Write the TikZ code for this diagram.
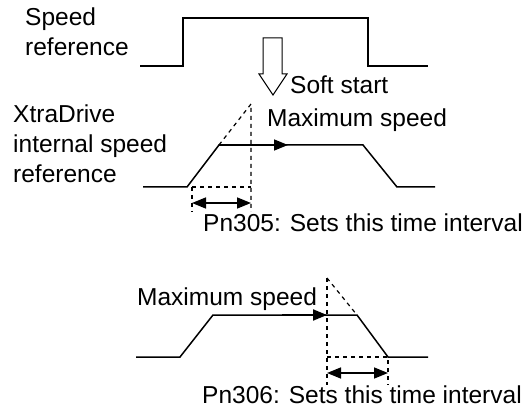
\documentclass[tikz,border=0pt]{standalone}
\usepackage{fontspec}
\setmainfont{Liberation Sans}
\usetikzlibrary{arrows.meta}

\begin{document}
\begin{tikzpicture}[
  x=1pt,y=-1pt,
  font=\fontsize{24.5}{30}\selectfont,
  wave/.style={line width=1.5pt,line join=miter},
  guide/.style={line width=1.2pt,dash pattern=on 4pt off 4pt},
  flow/.style={line width=1.5pt,-{Triangle[length=14pt,width=11pt]}},
  span/.style={line width=1.5pt,{Triangle[length=14pt,width=11pt]}-{Triangle[length=14pt,width=11pt]}},
  hollow/.style={line width=1pt,line join=miter},
  label/.style={anchor=base west,inner sep=0pt,align=left}
]
\useasboundingbox (0,0) rectangle (530,414);

% speed reference
\node[label] (refL) at (25,56) {Speed\\reference};
\draw[wave] (140,66) -- (183,66) -- (183,18) -- (368,18) -- (368,66) -- (428,66);

% soft start arrow
\draw[hollow] (263,38) -- (282,38) -- (282,74) -- (287,74) -- (273,95)
  -- (259,74) -- (263,74) -- cycle;
\node[label] (soft) at (290,94) {Soft start};

% internal speed reference (acceleration)
\coordinate (a0) at (143,187);
\coordinate (a1) at (187,187);
\coordinate (a2) at (219,145);
\coordinate (a3) at (363,145);
\coordinate (a4) at (397,187);
\coordinate (a5) at (435,187);
\coordinate (aT) at (251,104);
\node[label] (intL) at (13,183) {XtraDrive\\internal speed\\reference};
\draw[wave] (a0) -- (a1) -- (a2) -- (a3) -- (a4) -- (a5);
\draw[flow] (a2) -- (288,145);
\node[label] (maxA) at (267,127) {Maximum speed};
\draw[guide] (a2) -- (aT) -- (251,212);
\draw[guide] (192,187) -- (251,187);
\draw[guide] (192,187) -- (192,212);
\draw[span] (192,203) -- (251,203);
\node[label] (pn305) at (203,232) {Pn305: Sets this time interval};

% deceleration
\coordinate (b0) at (136,357);
\coordinate (b1) at (180,357);
\coordinate (b2) at (213,315);
\coordinate (b3) at (357,315);
\coordinate (b4) at (388,357);
\coordinate (b5) at (428,357);
\coordinate (bT) at (327,278);
\draw[wave] (b0) -- (b1) -- (b2) -- (b3) -- (b4) -- (b5);
\draw[flow,line width=2pt] (282,315) -- (327,315);
\node[label] (maxB) at (137,305) {Maximum speed};
\draw[guide] (bT) -- (327,385);
\draw[guide] (bT) -- (b3);
\draw[guide] (327,357) -- (b4) -- (388,385);
\draw[span] (327,373) -- (388,373);
\node[label] (pn306) at (202,403) {Pn306: Sets this time interval};
\end{tikzpicture}
\end{document}
